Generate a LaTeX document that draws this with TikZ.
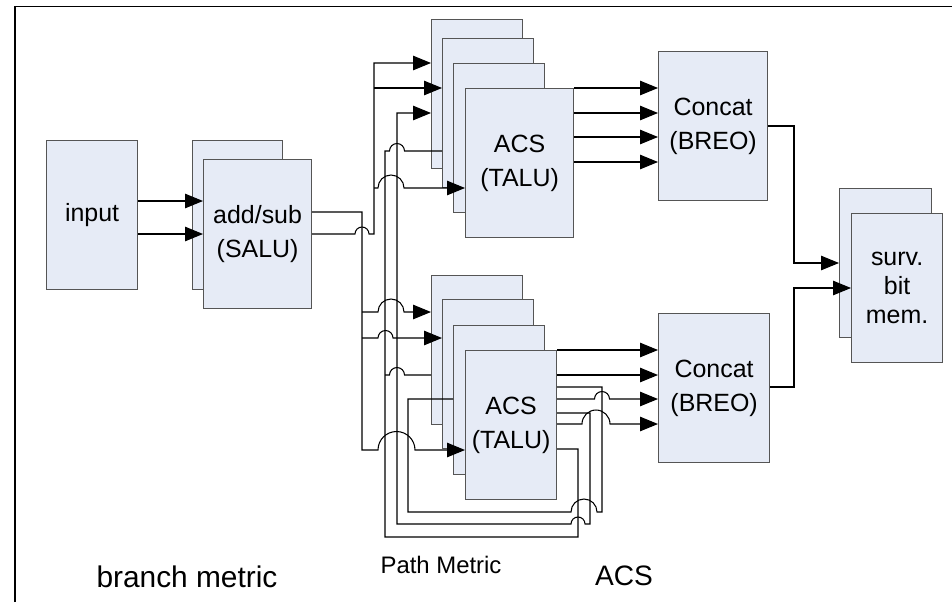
\documentclass[tikz,border=0pt]{standalone}
\usepackage{fontspec}
\setmainfont{Liberation Sans}
\usetikzlibrary{arrows.meta}

\begin{document}
\begin{tikzpicture}[x=0.02cm, y=-0.02cm,
	blk/.style={draw=boxline, fill=boxfill, line width=0.7pt, anchor=north west,
		minimum width=1.82cm, minimum height=2.98cm, inner sep=0pt, align=center,
		font=\fontsize{14.2}{19.5}\selectfont},
	wire/.style={line width=0.6pt},
	>={Triangle[length=0.36cm, width=0.29cm]}]
	\definecolor{boxfill}{RGB}{230, 235, 246}
	\definecolor{boxline}{RGB}{85, 85, 85}
	\useasboundingbox (0,0) rectangle (952,602);
	\draw[line width=1.1pt] (15,602) -- (15,6.5) -- (952,6.5);

	% branch metric
	\node[blk] (in) at (46,140) {input};
	\node[blk, minimum width=1.8cm] (salub) at (192,140) {};
	\node[blk, minimum width=2.16cm] (salu) at (203,159) {add/sub\\(SALU)};

	% acs stacks
	\foreach \i/\x/\y in {1/431/19, 2/442/38, 3/453/63}
		\node[blk] (ta\i) at (\x,\y) {};
	\node[blk, minimum width=2.16cm] (ta) at (465,88) {ACS\\(TALU)};
	\foreach \i/\x/\y in {1/431/275, 2/442/299, 3/453/325}
		\node[blk] (ba\i) at (\x,\y) {};
	\node[blk] (ba) at (465,350) {ACS\\(TALU)};

	% concat and memory
	\node[blk, minimum width=2.18cm] (ct) at (658,51) {Concat\\(BREO)};
	\node[blk, minimum width=2.22cm] (cb) at (658,313) {Concat\\(BREO)};
	\node[blk, minimum width=1.84cm] (sb) at (839,188) {};
	\node[blk, font=\fontsize{14.2}{16.5}\selectfont] (sm) at (851,213) {surv.\\bit\\mem.};

	% input to add/sub
	\foreach \y in {201, 234}
		\draw[wire, ->] (in.east |- 0,\y) -- (salu.west |- 0,\y);

	% add/sub outputs
	\draw[wire, ->] (salu.east |- 0,212) -| (362,450) -- (378,450)
		arc[start angle=180, end angle=0, radius=0.37cm] -- (ba.west |- 0,450);
	\draw[wire, ->] (salu.east |- 0,234) -- (355,234)
		arc[start angle=180, end angle=0, radius=0.14cm] -- (374,234) -- (374,63)
		-- (ta1.west |- 0,63);
	\draw[wire, ->] (374,88) -- (ta2.west |- 0,88);
	\draw[wire, ->] (374,188) -- (378,188)
		arc[start angle=180, end angle=0, radius=0.26cm] -- (ta.west |- 0,188);
	\draw[wire, ->] (362,312) -- (378,312)
		arc[start angle=180, end angle=0, radius=0.26cm] -- (ba1.west |- 0,312);
	\draw[wire, ->] (362,338) -- (378,338)
		arc[start angle=180, end angle=0, radius=0.15cm] -- (ba2.west |- 0,338);

	% path metric feedback
	\draw[wire] (ba.east |- 0,449) -- (578,449) -- (578,537) -- (385,537) -- (385,151)
		-- (389.5,151) arc[start angle=180, end angle=0, radius=0.15cm] -- (ta2.west |- 0,151);
	\draw[wire] (385,375) -- (389.5,375)
		arc[start angle=180, end angle=0, radius=0.15cm] -- (ba1.west |- 0,375);
	\draw[wire, ->] (ba.east |- 0,413) -- (590,413) -- (590,524) -- (585,524)
		arc[start angle=0, end angle=180, radius=0.14cm] -- (397,524) -- (397,113)
		-- (ta1.west |- 0,113);
	\draw[wire] (ba.east |- 0,387) -- (602,387) -- (602,512) -- (597,512)
		arc[start angle=0, end angle=180, radius=0.26cm] -- (408,512) -- (408,399)
		-- (ba3.west |- 0,399);

	% acs outputs
	\foreach \y in {88, 113, 137, 162}
		\draw[wire, ->] (ta.east |- 0,\y) -- (ct.west |- 0,\y);
	\foreach \y in {350, 375}
		\draw[wire, ->] (ba.east |- 0,\y) -- (cb.west |- 0,\y);
	\draw[wire, ->] (ba.east |- 0,399) -- (594.5,399)
		arc[start angle=180, end angle=0, radius=0.15cm] -- (cb.west |- 0,399);
	\draw[wire, ->] (ba.east |- 0,424) -- (582,424)
		arc[start angle=180, end angle=0, radius=0.28cm] -- (cb.west |- 0,424);

	% concat outputs
	\draw[wire, ->] (ct.east |- 0,126) -- (794,126) |- (sb.west |- 0,263);
	\draw[wire, ->] (cb.east |- 0,387) -- (794,387) |- (sm.west |- 0,288);

	% labels
	\node[font=\fontsize{17}{20}\selectfont] (lbm) at (187,577) {branch metric};
	\node[font=\fontsize{13.6}{16}\selectfont] (lpm) at (441,565) {Path Metric};
	\node[font=\fontsize{16}{19}\selectfont] (lacs) at (624,576) {ACS};
\end{tikzpicture}
\end{document}
